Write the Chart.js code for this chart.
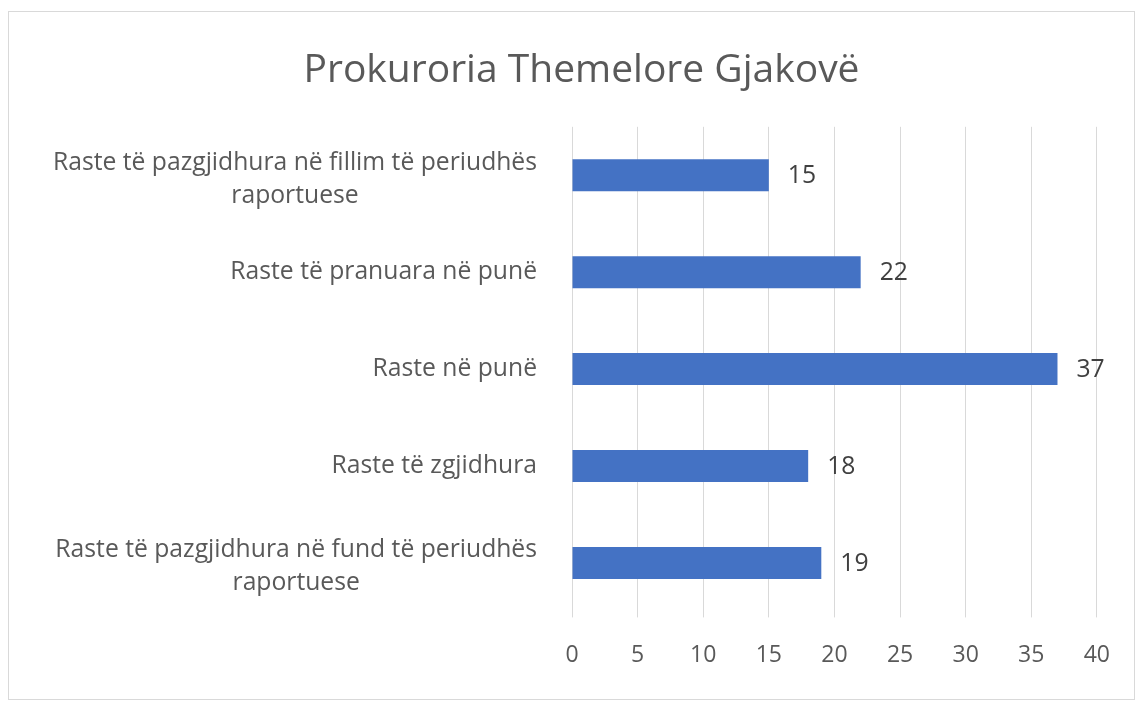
<!DOCTYPE html>
<html>
<head>
<meta charset="utf-8">
<script src="https://cdn.jsdelivr.net/npm/chart.js@4.4.1/dist/chart.umd.min.js"></script>
<style>
  html, body { margin: 0; padding: 0; background: #ffffff; }
  #frame { position: absolute; left: 8px; top: 11px; width: 1125px; height: 687px; border: 1px solid #d9d9d9; background: #fff; }
  #frame canvas { display: block; }
</style>
</head>
<body>
<div id="frame"><canvas id="c"></canvas></div>
<script>
const chartTitle = "Prokuroria Themelore Gjakovë";
const categories = [
  ["Raste të pazgjidhura në fillim të periudhës", "raportuese"],
  ["Raste të pranuara në punë"],
  ["Raste në punë"],
  ["Raste të zgjidhura"],
  ["Raste të pazgjidhura në fund të periudhës", "raportuese"]
];
const values = [15, 22, 37, 18, 19];
const xTicks = [0, 5, 10, 15, 20, 25, 30, 35, 40];

const FONT = "'Open Sans', 'DejaVu Sans', sans-serif";
const TEXT = "#595959";

const labelPlugin = {
  id: 'customLabels',
  afterDraw(chart) {
    const ctx = chart.ctx;
    const ys = chart.scales.y;
    ctx.save();
    ctx.font = "24.7px " + FONT;
    ctx.fillStyle = TEXT;
    ctx.textAlign = 'center';
    ctx.textBaseline = 'middle';
    const lh = 33;
    categories.forEach((lines, i) => {
      const y = ys.getPixelForTick(i);
      const w = Math.max(...lines.map(l => ctx.measureText(l).width));
      const cx = ys.right - 35 - w / 2;
      const y0 = y - (lines.length - 1) * lh / 2 + (lines.length > 1 ? 4 : 0);
      lines.forEach((l, k) => ctx.fillText(l, cx, y0 + k * lh));
    });
    const meta = chart.getDatasetMeta(0);
    ctx.textAlign = 'left';
    ctx.fillStyle = "#404040";
    meta.data.forEach((bar, i) => {
      ctx.fillText(String(values[i]), bar.x + 19, bar.y + 1);
    });
    ctx.restore();
  }
};

new Chart(document.getElementById('c'), {
  type: 'bar',
  data: {
    labels: categories,
    datasets: [{
      data: values,
      backgroundColor: '#4472C4',
      borderWidth: 0,
      categoryPercentage: 1,
      barPercentage: 0.33
    }]
  },
  options: {
    indexAxis: 'y',
    responsive: true,
    maintainAspectRatio: false,
    animation: false,
    layout: { padding: { left: 53, right: 33, top: 0, bottom: 6 } },
    plugins: {
      legend: { display: false },
      tooltip: { enabled: false },
      title: {
        display: true,
        text: chartTitle,
        color: TEXT,
        font: { family: FONT, size: 39, weight: 'normal' },
        padding: { top: 35, bottom: 33 }
      }
    },
    scales: {
      x: {
        min: 0, max: 40,
        afterBuildTicks(scale) { scale.ticks = xTicks.map(v => ({ value: v })); },
        border: { display: false },
        grid: { color: '#d9d9d9', lineWidth: 1, drawTicks: true, tickLength: 6 },
        ticks: { color: TEXT, font: { family: FONT, size: 23 }, padding: 24 }
      },
      y: {
        afterFit(scale) { scale.width = 510; },
        border: { display: false },
        grid: { display: false },
        ticks: { color: 'rgba(0,0,0,0)', font: { family: FONT, size: 21 } }
      }
    }
  },
  plugins: [labelPlugin]
});
</script>
</body>
</html>
